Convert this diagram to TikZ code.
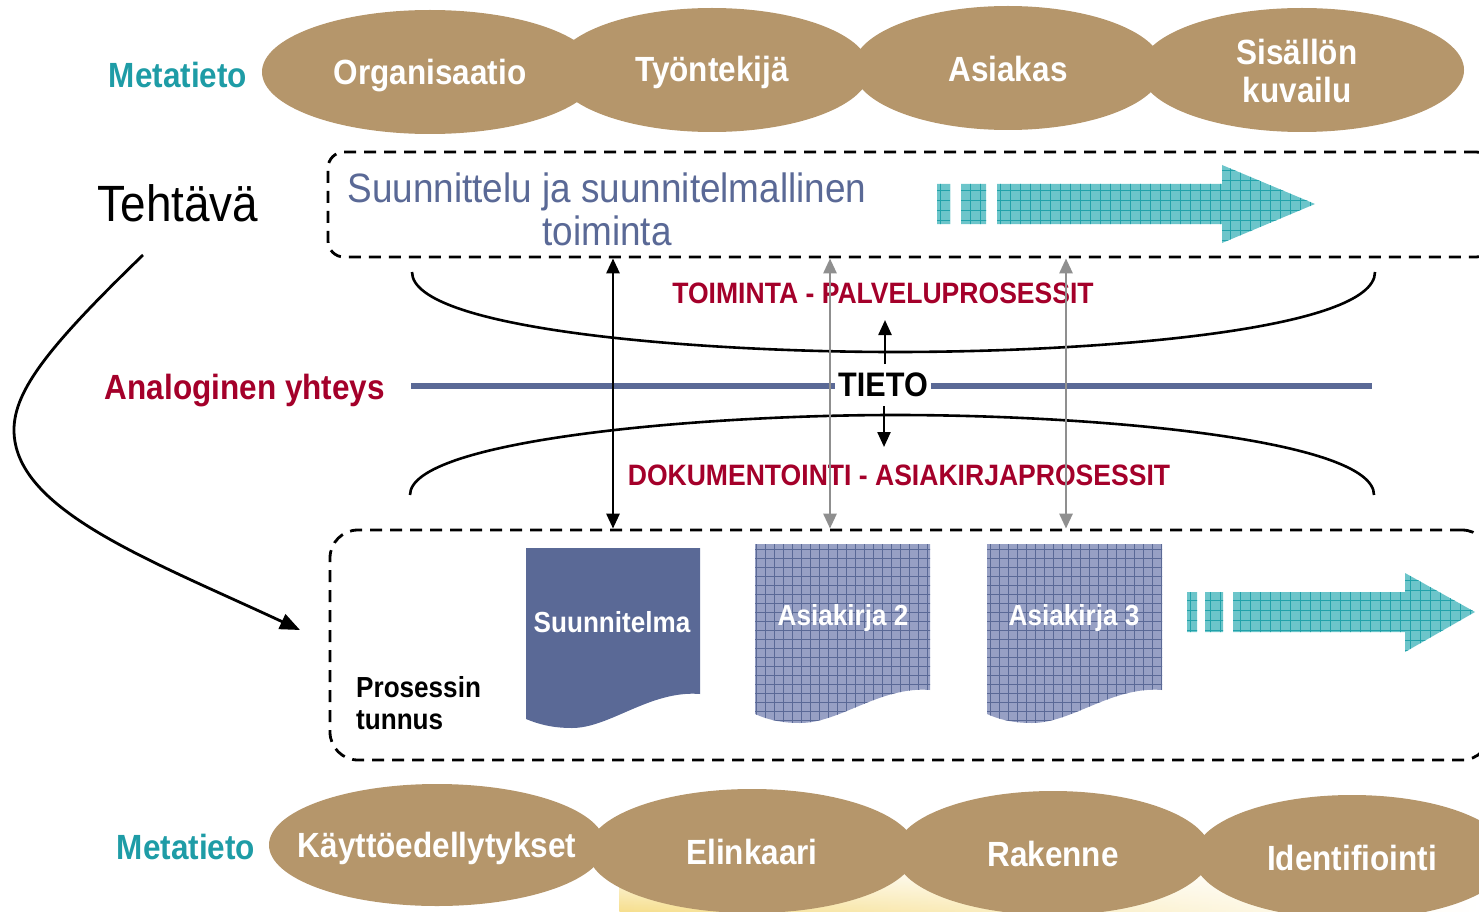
\documentclass[tikz,border=0pt]{standalone}
\usepackage{fontspec}
\setmainfont{Liberation Sans}[FakeStretch=0.9]
\usetikzlibrary{shapes.geometric,arrows.meta,fadings}
\definecolor{tanc}{HTML}{B5966B}
\definecolor{tealt}{HTML}{1E9CA6}
\definecolor{darkred}{HTML}{A4002A}
\definecolor{slate}{HTML}{5A6996}
\definecolor{grayarr}{HTML}{8F8F8F}
\definecolor{tealfill}{HTML}{6CC5CA}
\definecolor{tealgrid}{HTML}{22A2AA}
\definecolor{docfill}{HTML}{97A0C4}
\definecolor{bgyellow}{HTML}{F6DE8C}
\tikzset{
  ell/.style={ellipse, fill=tanc, inner sep=0pt},
  elltext/.style={text=white, align=center, inner sep=0pt,
    font=\fontsize{35}{38}\selectfont\bfseries},
  meta/.style={text=tealt, font=\fontsize{35}{38}\selectfont\bfseries},
  redlab/.style={text=darkred, font=\fontsize{29.5}{32}\selectfont\bfseries},
  dbox/.style={draw=black, line width=2.8pt, dash pattern=on 12pt off 8pt, inner sep=0pt},
  dbl/.style={line width=2.8pt, {Triangle[length=15pt,width=13pt]}-{Triangle[length=15pt,width=13pt]}},
  single/.style={line width=2.4pt, -{Triangle[length=15pt,width=13pt]}},
  doclab/.style={text=white, font=\fontsize{29}{32}\selectfont\bfseries},
}
\begin{document}
\begin{tikzpicture}[x=1pt,y=-1pt]
\useasboundingbox (0,0) rectangle (1479,912);
% faint background image at the bottom right
\shade[top color=white, bottom color=bgyellow, path fading=east] (620,860) rectangle (1479,912);

% top metadata ellipses
\node[ell, minimum width=336pt, minimum height=124pt] (org) at (430,72) {};
\node[ell, minimum width=316pt, minimum height=124pt] (tyo) at (712,70) {};
\node[ell, minimum width=310pt, minimum height=124pt] (asi) at (1008,68) {};
\node[ell, minimum width=324pt, minimum height=124pt] (sis) at (1302,70) {};
\node[elltext] (orgt) at (430,76) {Organisaatio};
\node[elltext] (tyot) at (712,72) {Työntekijä};
\node[elltext] (asit) at (1008,69) {Asiakas};
\node[elltext] (sist) at (1297,71) {Sisällön\\kuvailu};
\node[meta] (meta1) at (178,75) {Metatieto};

% bottom metadata ellipses
\node[ell, minimum width=336pt, minimum height=122pt] (kay) at (437,845) {};
\node[ell, minimum width=328pt, minimum height=124pt] (eli) at (752,851) {};
\node[ell, minimum width=316pt, minimum height=124pt] (rak) at (1053,853) {};
\node[ell, minimum width=316pt, minimum height=124pt] (ide) at (1352,857) {};
\node[elltext] (kayt) at (437,848) {Käyttöedellytykset};
\node[elltext] (elit) at (752,852) {Elinkaari};
\node[elltext] (rakt) at (1053,854) {Rakenne};
\node[elltext] (idet) at (1352,858) {Identifiointi};
\node[meta] (meta2) at (186,847) {Metatieto};

% task
\node[font=\fontsize{51}{54}\selectfont] (teh) at (178,203) {Tehtävä};

% dashed boxes
\node[dbox, rounded corners=16pt, minimum width=1164pt, minimum height=105pt] (topbox) at (910,204.5) {};
\node[dbox, rounded corners=28pt, minimum width=1160pt, minimum height=230pt] (botbox) at (910,645) {};

\node[text=slate, align=center, font=\fontsize{41}{43}\selectfont] (suun) at (607,209)
  {Suunnittelu ja suunnitelmallinen\\toiminta};

% teal arrows with grid texture
\begin{scope}
  \clip (937,184) rectangle (950,224)
        (961,184) rectangle (986,224)
        (997,184) -- (1222,184) -- (1222,165) -- (1315,204) -- (1222,243) -- (1222,224) -- (997,224) -- cycle
        (1187,592) rectangle (1197,632)
        (1205,592) rectangle (1223,632)
        (1233,592) -- (1405,592) -- (1405,573) -- (1475,612) -- (1405,652) -- (1405,632) -- (1233,632) -- cycle;
  \fill[tealfill] (930,160) rectangle (1320,250);
  \fill[tealfill] (1180,565) rectangle (1479,660);
  \draw[tealgrid, line width=0.7pt, step=10pt] (930,250) grid (1320,160);
  \draw[tealgrid, line width=0.7pt, step=10pt] (1180,660) grid (1479,565);
\end{scope}

% lens curves
\draw[line width=2.6pt] (412,272) .. controls (412,330) and (700,352) .. (895,352)
  .. controls (1100,352) and (1375,330) .. (1375,272);
\draw[line width=2.6pt] (410,495) .. controls (410,440) and (700,415) .. (895,415)
  .. controls (1100,415) and (1374,440) .. (1374,495);

\node[redlab] (toim) at (883,293) {TOIMINTA - PALVELUPROSESSIT};
\node[redlab] (doku) at (899,475) {DOKUMENTOINTI - ASIAKIRJAPROSESSIT};

% TIETO line
\node[font=\fontsize{34}{36}\selectfont\bfseries, inner sep=3pt] (tieto) at (883,385) {TIETO};
\coordinate (lineL) at (411,386);
\coordinate (lineR) at (1372,386);
\draw[slate, line width=6pt] (lineL) -- (lineL -| tieto.west);
\draw[slate, line width=6pt] (lineR -| tieto.east) -- (lineR);
\node[text=darkred, font=\fontsize{35}{38}\selectfont\bfseries] (anal) at (245,391) {Analoginen yhteys};

\coordinate (tup) at (885,320);
\coordinate (tdown) at (884,447);
\draw[single] (885,364) -- (tup);
\draw[single] (884,406) -- (tdown);

% vertical arrows
\draw[dbl] (613,0 |- topbox.south) -- (613,0 |- botbox.north);
\draw[dbl, grayarr] (830,0 |- topbox.south) -- (830,0 |- botbox.north);
\draw[dbl, grayarr] (1066,4 |- topbox.south) -- (1066,0 |- botbox.north);

% curved arrow
\coordinate (cs) at (143,255);
\coordinate (ce) at (300,630);
\draw[line width=2.8pt, -{Triangle[length=20pt,width=16pt]}] (cs) .. controls (50,345) and (14,390) .. (14,430)
  .. controls (14,510) and (150,560) .. (ce);

% documents
\fill[slate] (526,548) -- (700,548) -- (700,694) .. controls (650,690) and (610,728) .. (572,728)
  .. controls (552,728) and (538,724) .. (526,719) -- cycle;
\node[doclab] (suunm) at (612,622) {Suunnitelma};

\begin{scope}
  \clip (755,544) -- (930,544) -- (930,690) .. controls (880,686) and (840,723) .. (800,723)
    .. controls (780,723) and (766,719) .. (755,714) -- cycle
    (987,544) -- (1162,544) -- (1162,690) .. controls (1112,686) and (1072,723) .. (1032,723)
    .. controls (1012,723) and (998,719) .. (987,714) -- cycle;
  \fill[docfill] (750,540) rectangle (1170,730);
  \draw[slate, line width=0.7pt, step=9pt] (750,730) grid (1170,540);
\end{scope}
\node[doclab] (ak2) at (843,618) {Asiakirja 2};
\node[doclab] (ak3) at (1074,618) {Asiakirja 3};

\node[align=left, anchor=north west, inner sep=0pt, font=\fontsize{29}{32}\selectfont\bfseries] (pros) at (356,676)
  {Prosessin\\tunnus};
\end{tikzpicture}
\end{document}
